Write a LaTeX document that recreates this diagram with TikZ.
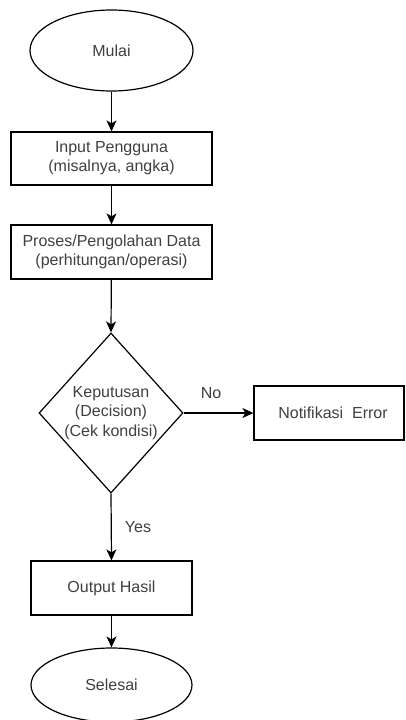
\documentclass[tikz,border=0pt]{standalone}
\usepackage{fontspec}
\setmainfont{Liberation Sans}
\usetikzlibrary{shapes.geometric,arrows.meta}
\definecolor{txtgray}{HTML}{404040}
\begin{document}
\begin{tikzpicture}[x=1pt,y=-1pt,
  base/.style={draw=black,line width=1.2pt,inner sep=0pt,font=\fontsize{16pt}{19.2pt}\selectfont,text=txtgray,align=center},
  term/.style={base,ellipse,minimum width=163pt,minimum height=81pt},
  procbox/.style={base,rectangle,minimum width=201pt,minimum height=53pt},
  decision/.style={draw=black,line width=1.2pt,diamond,inner sep=0pt,minimum width=144pt,minimum height=160pt},
  txt/.style={inner sep=0pt,font=\fontsize{16pt}{19.2pt}\selectfont,text=txtgray,align=center},
  conn/.style={draw=black,line width=1.2pt,-{Stealth[length=11pt,width=10pt,inset=3pt]}}
]
\fill[white] (0,0) rectangle (405,720);
\useasboundingbox (0,0) rectangle (405,720);

\node[term] (mulai) at (111.5,50.5) {Mulai};
\node[procbox] (input) at (111.5,158.5) {Input Pengguna\\(misalnya, angka)};
\node[procbox,minimum height=54pt] (proses) at (111.5,252) {Proses/Pengolahan Data\\(perhitungan/operasi)};
\node[decision] (dec) at (111,413) {};
\node[txt] (dectxt) at (dec.center) {Keputusan\\(Decision)\\(Cek kondisi)};
\node[procbox,minimum width=150pt,minimum height=54pt] (notif) at (329,413) {\hspace*{8pt}Notifikasi\ \ Error};
\node[procbox,minimum width=161pt,minimum height=54pt] (output) at (111.5,588) {Output Hasil};
\node[term,minimum width=161pt,minimum height=74pt] (selesai) at (111.5,685) {Selesai};

\node[txt] (nolbl) at (211,393) {No};
\node[txt] (yeslbl) at (138,527) {Yes};

\draw[conn] (mulai) -- (input);
\draw[conn] (input) -- (proses);
\draw[conn] (proses) -- (dec.north);
\draw[conn] (dec.east) -- (notif.west);
\draw[conn] (dec.south) -- (output.north);
\draw[conn] (output) -- (selesai);
\end{tikzpicture}
\end{document}
